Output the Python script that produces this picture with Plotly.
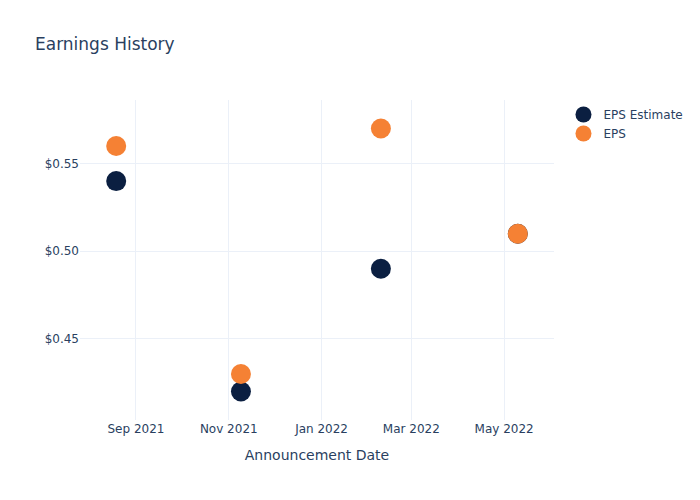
import plotly.graph_objects as go

dates = ["2021-08-19", "2021-11-09", "2022-02-09", "2022-05-10"]
eps_estimate = [0.54, 0.42, 0.49, 0.51]
eps_actual = [0.56, 0.43, 0.57, 0.51]

fig = go.Figure()
fig.add_trace(go.Scatter(x=dates, y=eps_estimate, mode="markers", name="EPS Estimate",
                         marker=dict(color="#0b1f41", size=20)))
fig.add_trace(go.Scatter(x=dates, y=eps_actual, mode="markers", name="EPS",
                         marker=dict(color="#f58134", size=20)))
fig.update_layout(
    template="plotly_white",
    width=700, height=500,
    title=dict(text="Earnings History"),
    xaxis=dict(title="Announcement Date"),
    yaxis=dict(tickprefix="$", tickformat=".2f"),
    font=dict(family="DejaVu Sans, Open Sans, sans-serif"),
)
fig.write_html("out.html")
